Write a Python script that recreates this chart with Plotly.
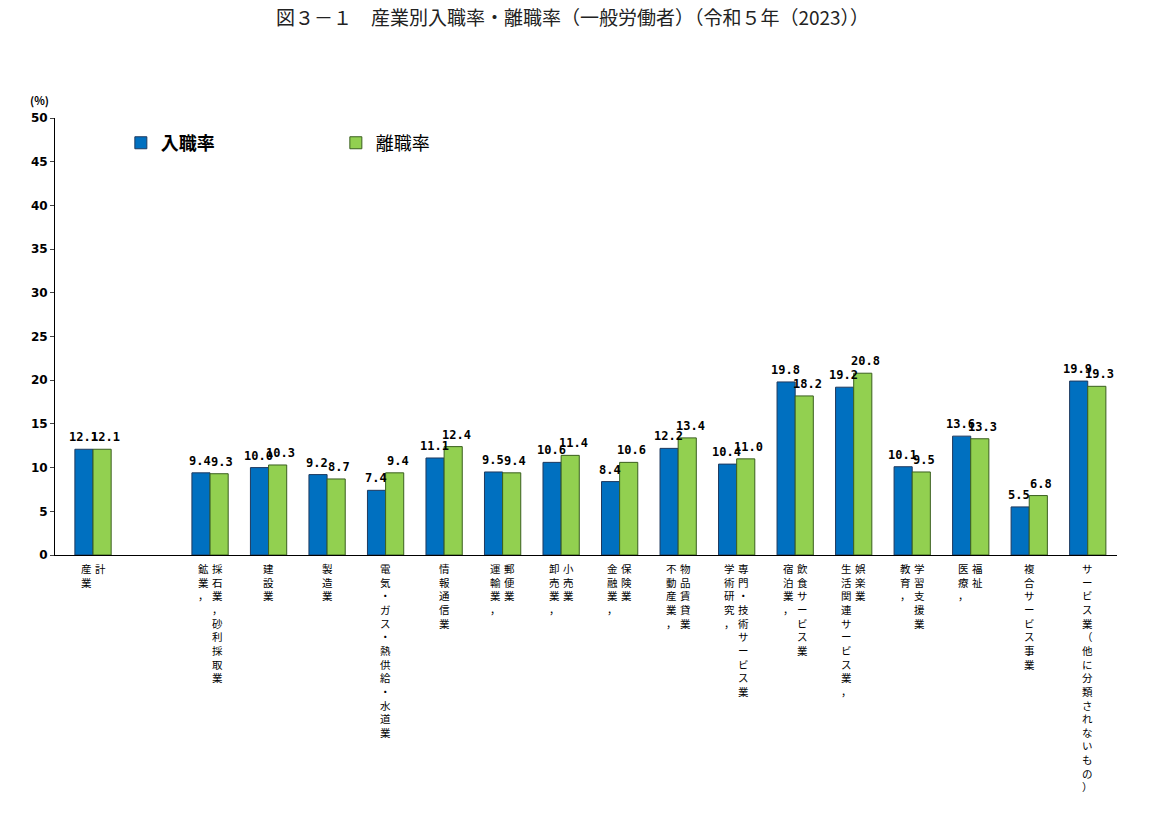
import plotly.graph_objects as go

categories = ["産業計", "", "鉱業", "建設業", "製造業", "電気", "情報通信業", "運輸業", "卸売業", "金融業",
              "不動産業", "学術研究", "宿泊業", "生活関連", "教育", "医療", "複合", "サービス業"]
label_cols = [["産業", "計"], [], ["鉱業，", "採石業，砂利採取業"], ["建設業"], ["製造業"],
              ["電気・ガス・熱供給・水道業"], ["情報通信業"], ["運輸業，", "郵便業"], ["卸売業，", "小売業"],
              ["金融業，", "保険業"], ["不動産業，", "物品賃貸業"], ["学術研究，", "専門・技術サービス業"],
              ["宿泊業，", "飲食サービス業"], ["生活関連サービス業，", "娯楽業"], ["教育，", "学習支援業"],
              ["医療，", "福祉"], ["複合サービス事業"], ["サービス業（他に分類されないもの）"]]
hire = [12.1, None, 9.4, 10.0, 9.2, 7.4, 11.1, 9.5, 10.6, 8.4, 12.2, 10.4, 19.8, 19.2, 10.1, 13.6, 5.5, 19.9]
sep = [12.1, None, 9.3, 10.3, 8.7, 9.4, 12.4, 9.4, 11.4, 10.6, 13.4, 11.0, 18.2, 20.8, 9.5, 13.3, 6.8, 19.3]
yticks = list(range(0, 55, 5))

FONT = "Noto Sans CJK JP"
x = list(range(len(categories)))

fig = go.Figure()
fig.add_bar(x=x, y=hire, name="<b>入職率</b>", marker=dict(color="#0070C0", line=dict(color="#1F3A5F", width=1)))
fig.add_bar(x=x, y=sep, name="離職率", marker=dict(color="#92D050", line=dict(color="#3A5F1F", width=1)))

for series, sh in ((hire, -10), (sep, 12)):
    for i, v in enumerate(series):
        if v is None:
            continue
        fig.add_annotation(x=i, y=v, xref="x", yref="y", yanchor="bottom", yshift=3, xshift=sh,
                           showarrow=False, text=f"<b>{v:.1f}</b>",
                           font=dict(size=12, family="DejaVu Sans Mono", color="black"))

for i, cols in enumerate(label_cols):
    n = len(cols)
    for j, c in enumerate(cols):
        off = (j - (n - 1) / 2) * 14
        fig.add_annotation(x=i, xref="x", y=0, yref="paper", yanchor="top", xanchor="center",
                           yshift=-4, xshift=off, showarrow=False,
                           text="<br>".join(list(c)), font=dict(size=10.5, family=FONT, color="black"))

fig.add_annotation(x=0, xref="paper", xanchor="right", xshift=-4, y=1, yref="paper", yshift=28,
                   showarrow=False, text="<b>(%)</b>", font=dict(size=11, family=FONT))

fig.update_layout(
    width=1164, height=814, plot_bgcolor="white", paper_bgcolor="white",
    margin=dict(l=47, r=55, t=110, b=267, autoexpand=False),
    title=dict(text="図３－１　産業別入職率・離職率（一般労働者）（令和５年（2023））", x=0.485, y=0.995,
               yanchor="top", xanchor="center", font=dict(size=19, family=FONT, color="#222")),
    barmode="group", bargap=0.38, bargroupgap=0,
    font=dict(family=FONT, color="black"),
    legend=dict(orientation="h", x=0.062, y=0.985, xanchor="left", yanchor="top",
                font=dict(size=18, family=FONT), itemwidth=30, entrywidth=170),
    xaxis=dict(range=[-0.65, 17.5], showticklabels=False, showline=True, linecolor="black",
               ticks="", zeroline=False),
    yaxis=dict(range=[0, 50], tickvals=yticks, ticktext=[f"<b>{v}</b>" for v in yticks],
               showline=True, linecolor="black", ticks="outside", ticklen=4, showgrid=False,
               zeroline=False, tickfont=dict(size=12, family="DejaVu Sans")),
)
fig.write_html("out.html")
